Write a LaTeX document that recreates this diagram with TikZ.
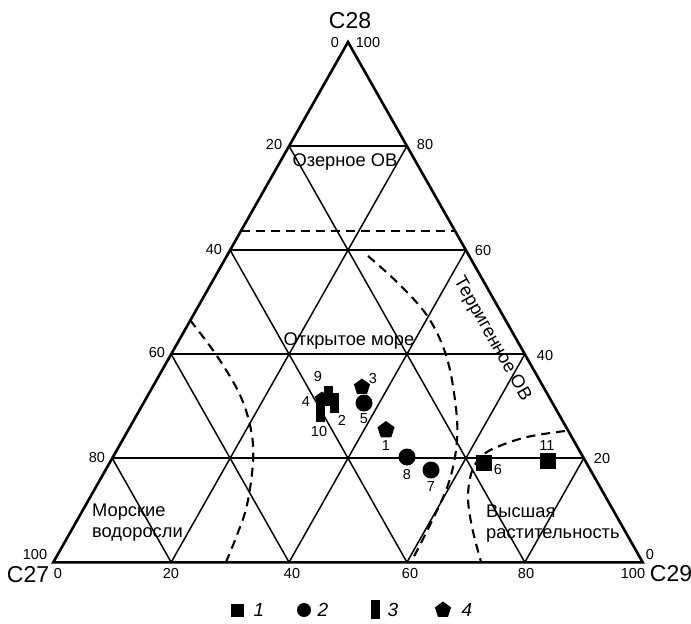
\documentclass[tikz,border=0pt]{standalone}
\usepackage{fontspec}
\setmainfont{Liberation Sans}
\usetikzlibrary{calc,shapes.geometric}
\begin{document}
\begin{tikzpicture}[x=1pt,y=-1pt,
  gridline/.style={line width=1.5pt},
  frame/.style={line width=2.6pt, line join=miter},
  dsh/.style={line width=2.1pt, dash pattern=on 9pt off 6pt},
  tick/.style={font=\fontsize{14.5}{16}\selectfont, inner sep=0},
  axis/.style={font=\fontsize{23}{26}\selectfont, inner sep=0},
  region/.style={font=\fontsize{18.3}{21}\selectfont, inner sep=0, align=left},
  num/.style={font=\fontsize{14.5}{16}\selectfont, inner sep=0},
  sq/.style={rectangle, fill=black, minimum size=16pt, inner sep=0},
  circ/.style={circle, fill=black, minimum size=17pt, inner sep=0},
  bar/.style={rectangle, fill=black, minimum width=9pt, minimum height=20pt, inner sep=0},
  pent/.style={regular polygon, regular polygon sides=5, fill=black, minimum size=18pt, inner sep=0},
  leg/.style={font=\fontsize{19}{21}\selectfont\itshape, inner sep=0}]
\useasboundingbox (0,0) rectangle (691,624);
\coordinate (A) at (53.3,562.3);
\coordinate (B) at (642.7,562.3);
\coordinate (C) at (348,42);
% grid
\foreach \t in {0.2,0.4,0.6,0.8}{
  \pgfmathsetmacro{\u}{1-\t}
  \draw[gridline] ($(A)!\t!(C)$) -- ($(B)!\t!(C)$);
  \draw[gridline] ($(A)!\t!(B)$) -- ($(B)!\u!(C)$);
  \draw[gridline] ($(A)!\t!(B)$) -- ($(A)!\t!(C)$);
}
\draw[frame] (A) -- (B) -- (C) -- cycle;
% dashed boundaries
\coordinate (hl) at ($(A)!0.6368!(C)$);
\coordinate (hr) at ($(B)!0.6368!(C)$);
\draw[dsh] (hl) -- (hr);
\draw[dsh] plot[smooth, tension=0.6] coordinates {(190,320) (217,356) (240,395) (251,430) (253,462) (247,505) (237,535) (226,562)};
\draw[dsh] plot[smooth, tension=0.6] coordinates {(368,256) (400,285) (428,317) (446,355) (455,400) (457,440) (449,482) (430,525) (411,562)};
\draw[dsh] plot[smooth, tension=0.6] coordinates {(565,431) (527,437) (497,447) (482,456) (472,471) (468,497) (472,527) (481,562)};
% axis names
\node[axis] (c28) at (350,21) {C28};
\node[axis] (c27) at (28,575) {C27};
\node[axis] (c29) at (671,574) {C29};
% ticks
\node[tick] (t0) at (335,43) {0};
\node[tick] (t100) at (368,43) {100};
\node[tick] (l20) at (274,145) {20};
\node[tick] (l40) at (214,250) {40};
\node[tick] (l60) at (157,353) {60};
\node[tick] (l80) at (97,458) {80};
\node[tick] (l100) at (35,555) {100};
\node[tick] (r80) at (425,145) {80};
\node[tick] (r60) at (483,251) {60};
\node[tick] (r40) at (545,356) {40};
\node[tick] (r20) at (602,459) {20};
\node[tick] (r0) at (650,555) {0};
\node[tick] (b0) at (58,574) {0};
\node[tick] (b20) at (171,574) {20};
\node[tick] (b40) at (292,574) {40};
\node[tick] (b60) at (410,574) {60};
\node[tick] (b80) at (526,574) {80};
\node[tick] (b100) at (633,574) {100};
% region labels
\node[region] (oz) at (345,162) {Озерное ОВ};
\node[region] (om) at (349,341) {Открытое море};
\node[region, rotate=-60.5] (ter) at (492,339) {Терригенное ОВ};
\node[region, anchor=west] (mv) at (92,523) {Морские\\водоросли};
\node[region, anchor=west] (vr) at (486,524) {Высшая\\растительность};
% data points
\node[bar] (p9) at (328,396) {};
\node[bar] (p2) at (334,403) {};
\node[pent, minimum size=15pt] (p4) at (322,399) {};
\node[bar] (p10) at (320,412) {};
\node[pent, minimum size=17pt] (p3) at (362,387) {};
\node[circ] (p5) at (364,403) {};
\node[pent] (p1) at (386,430) {};
\node[circ] (p8) at (407,457) {};
\node[circ] (p7) at (431,470) {};
\node[sq] (p6) at (484,463) {};
\node[sq] (p11) at (548,461) {};
\node[num] (n9) at (318,377) {9};
\node[num] (n4) at (306,402) {4};
\node[num] (n2) at (342,420) {2};
\node[num] (n10) at (319,432) {10};
\node[num] (n3) at (373,379) {3};
\node[num] (n5) at (364,419) {5};
\node[num] (n1) at (386,446) {1};
\node[num] (n8) at (407,475) {8};
\node[num] (n7) at (431,487) {7};
\node[num] (n6) at (498,470) {6};
\node[num] (n11) at (547,446) {11};
% legend
\node[rectangle, fill=black, minimum size=13pt, inner sep=0] (ls) at (237,610) {};
\node[leg] (l1) at (259,610) {1};
\node[circle, fill=black, minimum size=14pt, inner sep=0] (lc) at (304,610) {};
\node[leg] (l2) at (323,610) {2};
\node[rectangle, fill=black, minimum width=9pt, minimum height=19pt, inner sep=0] (lb) at (375,609) {};
\node[leg] (l3) at (393,610) {3};
\node[regular polygon, regular polygon sides=5, fill=black, minimum size=17pt, inner sep=0] (lp) at (443,610) {};
\node[leg] (l4) at (467,610) {4};
\end{tikzpicture}
\end{document}
